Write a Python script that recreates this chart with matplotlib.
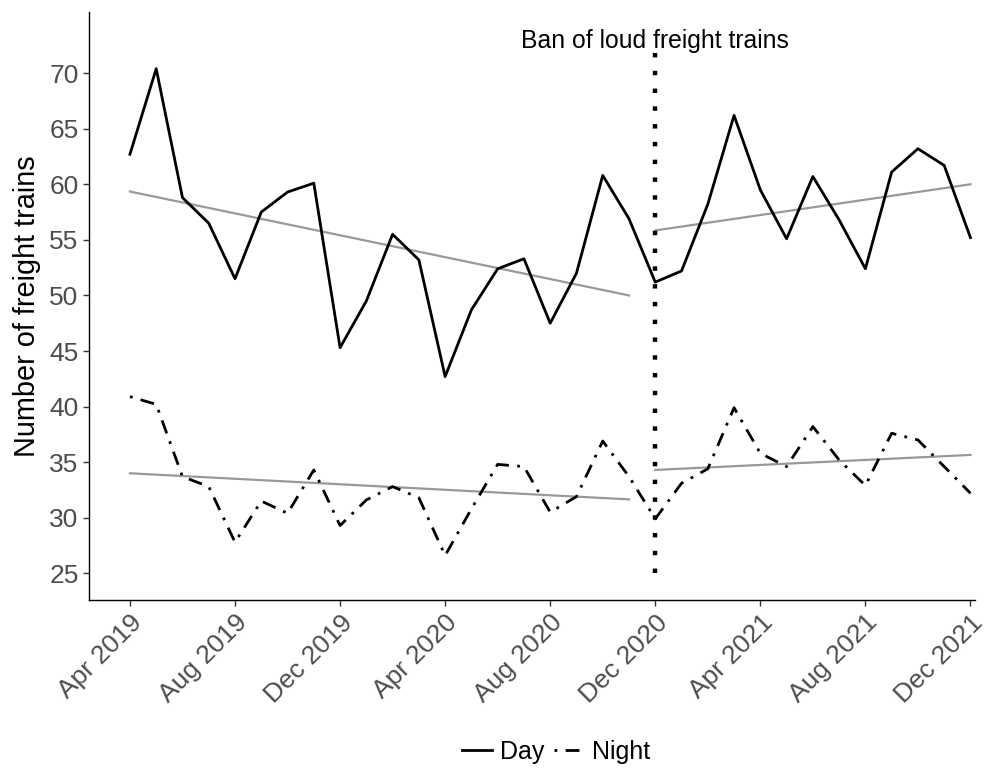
import matplotlib.pyplot as plt

plt.rcParams['font.family'] = ['Liberation Sans', 'DejaVu Sans']

# months Apr 2019 .. Dec 2021
meses = list(range(33))
rotulos = ['Apr 2019', 'Aug 2019', 'Dec 2019', 'Apr 2020', 'Aug 2020',
           'Dec 2020', 'Apr 2021', 'Aug 2021', 'Dec 2021']
posicoes = [0, 4, 8, 12, 16, 20, 24, 28, 32]

dia = [62.7, 70.4, 58.8, 56.5, 51.5, 57.5, 59.3, 60.1, 45.3, 49.5,
       55.5, 53.2, 42.7, 48.7, 52.4, 53.3, 47.5, 52.0, 60.8, 56.9,
       51.2, 52.2, 58.2, 66.2, 59.5, 55.1, 60.7, 56.8, 52.4, 61.1,
       63.2, 61.7, 55.2]
noite = [40.9, 40.2, 33.7, 32.8, 27.8, 31.5, 30.4, 34.3, 29.3, 31.6,
         32.8, 31.8, 26.6, 30.8, 34.8, 34.6, 30.5, 31.9, 36.9, 33.7,
         29.9, 33.1, 34.4, 39.9, 35.8, 34.6, 38.2, 35.2, 32.9, 37.6,
         37.0, 34.6, 32.2]

# trend lines before / after the ban
trend_x_antes = [0, 19]
trend_x_depois = [20, 32]
trend_dia_antes = [59.35, 50.0]
trend_dia_depois = [55.85, 60.0]
trend_noite_antes = [34.0, 31.65]
trend_noite_depois = [34.3, 35.65]

proibicao = 20
texto = 'Ban of loud freight trains'

fig = plt.figure(figsize=(10.03, 7.7), dpi=100)
ax = fig.add_axes([0.0887, 0.2208, 0.8833, 0.7636])

cinza = '#999999'
ax.plot(trend_x_antes, trend_dia_antes, color=cinza, lw=1.6)
ax.plot(trend_x_depois, trend_dia_depois, color=cinza, lw=1.6)
ax.plot(trend_x_antes, trend_noite_antes, color=cinza, lw=1.6)
ax.plot(trend_x_depois, trend_noite_depois, color=cinza, lw=1.6)

ax.plot(meses, dia, color='black', lw=2.0, label='Day')
ax.plot(meses, noite, color='black', lw=2.0, linestyle=(0, (1, 3, 5, 3)),
        label='Night')

ax.plot([proibicao, proibicao], [25, 71.9], color='black', lw=3.2,
        linestyle=(0, (1, 3)), dash_capstyle='butt')
ax.text(proibicao, 72.9, texto, ha='center', va='center', fontsize=17.8,
        color='black')

ax.set_xlim(-1.56, 32.17)
ax.set_ylim(22.6, 75.5)
ax.set_yticks(range(25, 71, 5))
ax.set_xticks(posicoes)
ax.set_xticklabels(rotulos, rotation=45, ha='right', va='top',
                   rotation_mode='anchor')
ax.tick_params(axis='both', labelsize=19, colors='#333333', length=4,
               width=1.0, labelcolor='#4D4D4D')
ax.set_ylabel('Number of freight trains', fontsize=20.8, color='black',
              labelpad=6)

for lado in ['top', 'right']:
    ax.spines[lado].set_visible(False)
for lado in ['left', 'bottom']:
    ax.spines[lado].set_linewidth(1.0)
    ax.spines[lado].set_color('black')

fig.legend(loc='center', bbox_to_anchor=(556 / 1003, 1 - 752 / 770), ncol=2,
           frameon=False, fontsize=18, handlelength=1.2, handletextpad=0.3,
           columnspacing=0.4)

plt.savefig('out.png', dpi=100)
